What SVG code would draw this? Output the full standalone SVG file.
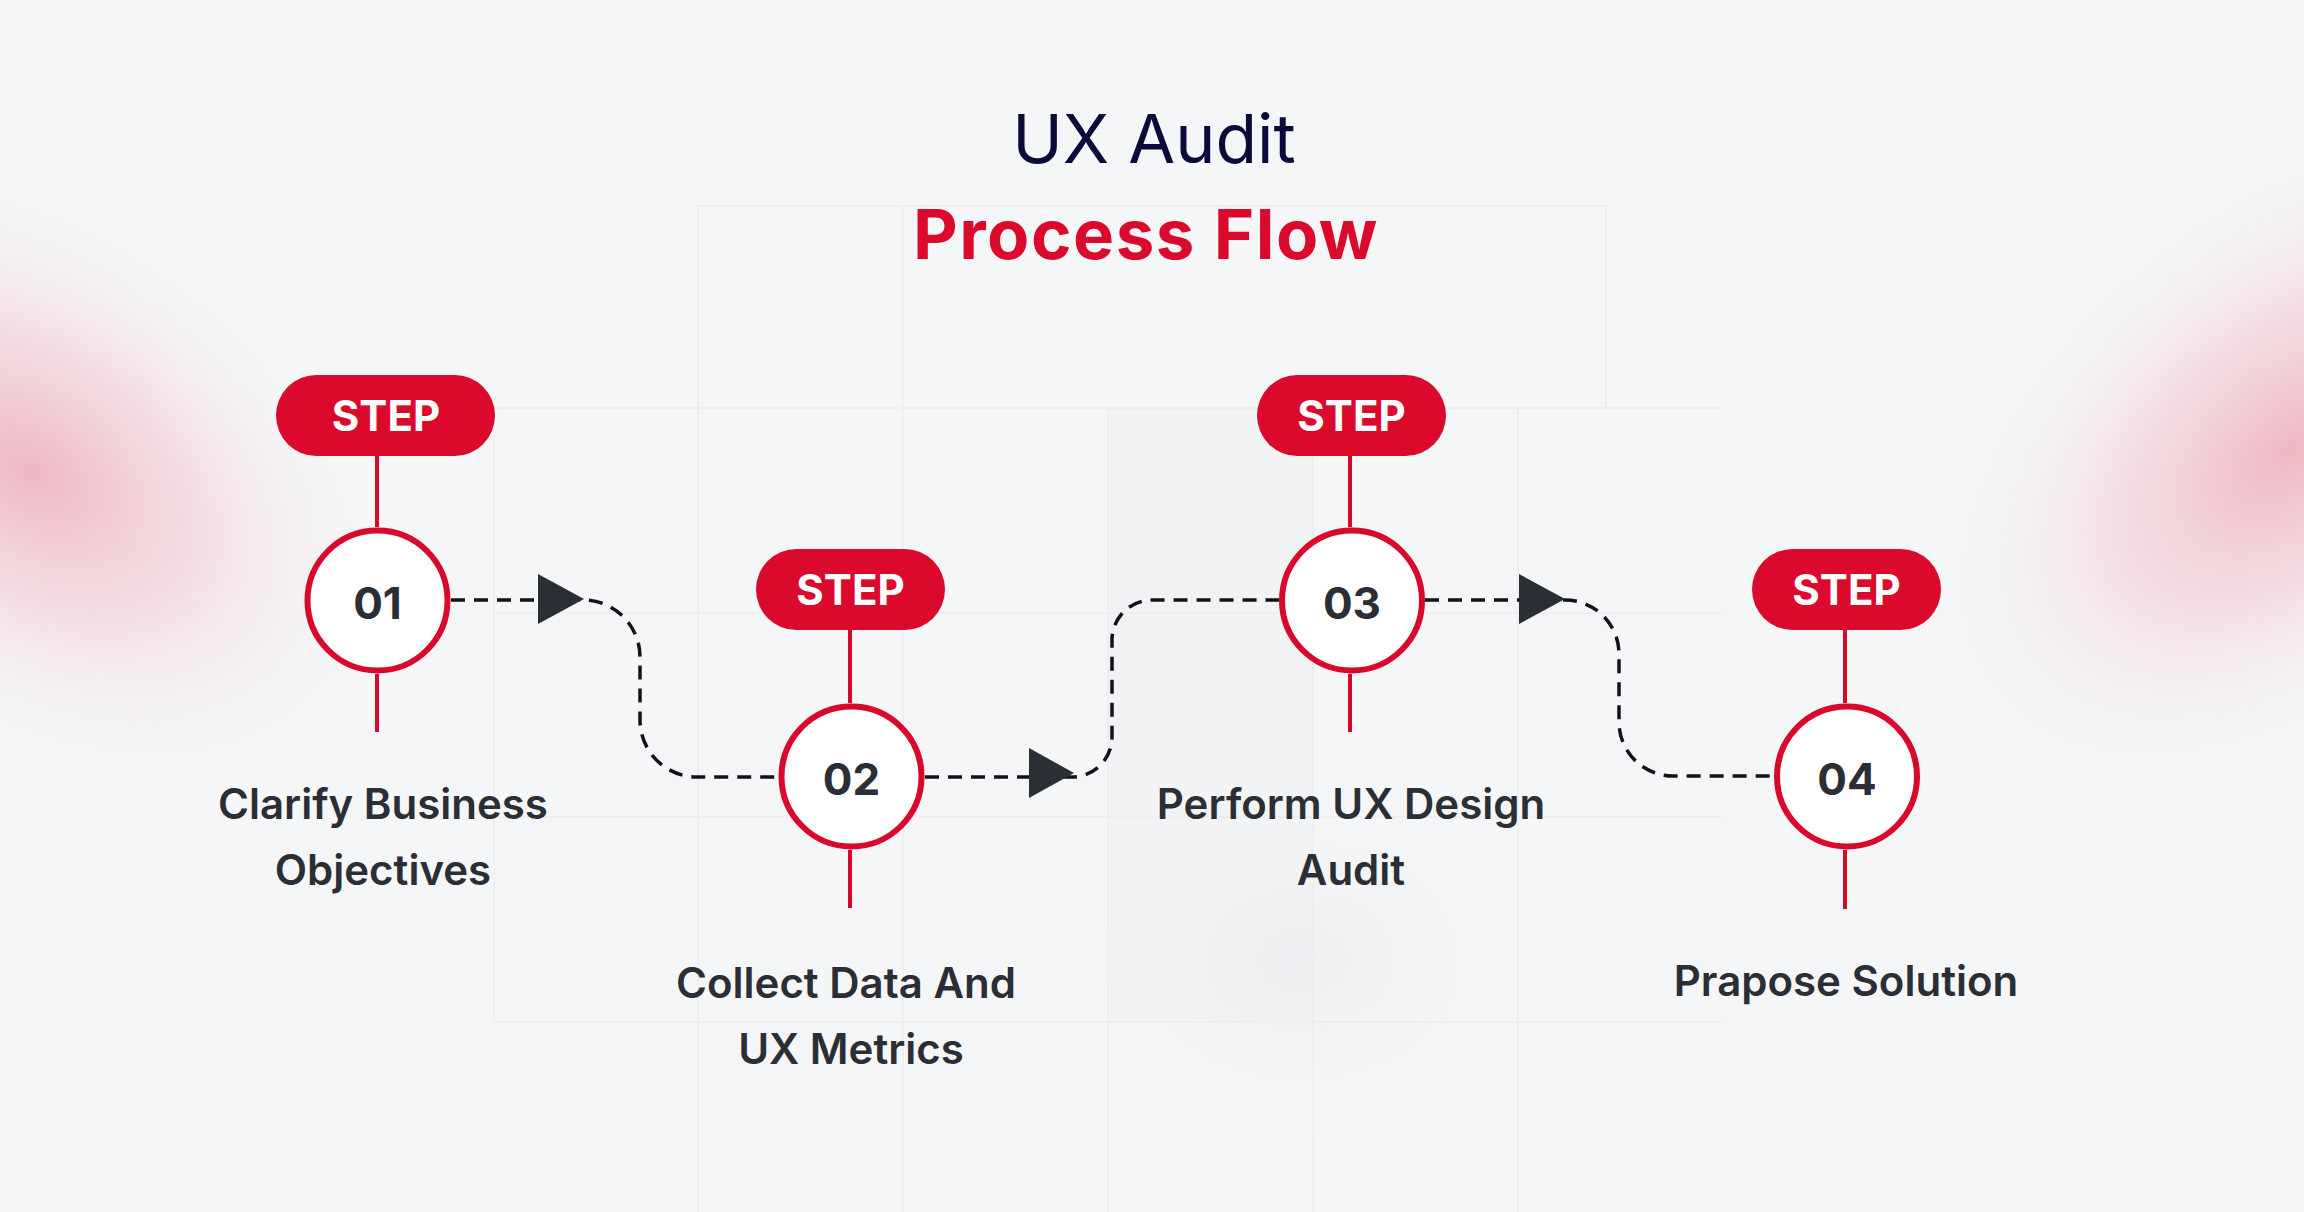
<svg xmlns="http://www.w3.org/2000/svg" width="2304" height="1212" viewBox="0 0 2304 1212">
<defs>
<style>
.pill{fill:#db0a2d}
.pilltxt{font-family:Inter,"Noto Sans",sans-serif;font-weight:700;font-size:42px;fill:#ffffff;text-anchor:middle}
.ring{fill:#ffffff;stroke:#d9092b;stroke-width:6}
.num{font-family:Inter,"Noto Sans",sans-serif;font-weight:700;font-size:44px;fill:#2b2e35;text-anchor:middle}
.stem{stroke:#d9092b;stroke-width:4;fill:none}
.lbl{font-family:Inter,"Noto Sans",sans-serif;font-weight:600;font-size:42px;fill:#2b2e35;text-anchor:middle}
.dash{fill:none;stroke:#111318;stroke-width:3.5;stroke-dasharray:14 9}
.arrow{fill:#2b2e35}
.grid{stroke:#ebedf0;stroke-width:1.5;fill:none}
</style>
<radialGradient id="pink" cx="0.5" cy="0.5" r="0.5">
<stop offset="0" stop-color="#eca3b1" stop-opacity="0.75"/>
<stop offset="0.45" stop-color="#f0bcc6" stop-opacity="0.45"/>
<stop offset="1" stop-color="#f5f6f8" stop-opacity="0"/>
</radialGradient>
<radialGradient id="gray" cx="0.5" cy="0.5" r="0.5">
<stop offset="0" stop-color="#e9eaed" stop-opacity="0.6"/>
<stop offset="1" stop-color="#f5f6f8" stop-opacity="0"/>
</radialGradient>
</defs>
<rect x="0" y="0" width="2304" height="1212" fill="#f5f6f8"/>
<g id="background">
<ellipse cx="30" cy="470" rx="400" ry="260" transform="rotate(35 30 470)" fill="url(#pink)"/>
<ellipse cx="2290" cy="450" rx="420" ry="260" transform="rotate(-40 2290 450)" fill="url(#pink)"/>
<rect x="1108" y="408" width="205" height="614" fill="#f2f3f5"/>
<ellipse cx="1300" cy="960" rx="240" ry="180" fill="url(#gray)"/>
<path class="grid" d="M698,206 V1212 M903,206 V1212 M1108,408 V1212 M1313,408 V1212 M1518,408 V1212 M494,408 V1022 M494,408 H1721 M494,613 H1721 M494,817 H1721 M494,1022 H1721 M698,206 H1606 M1606,206 V408"/>
</g>
<g id="title">
<text x="1154" y="163" font-family="Inter,'Noto Sans',sans-serif" font-weight="400" font-size="68" fill="#0b0a3a" text-anchor="middle">UX Audit</text>
<text x="1146" y="259" font-family="Inter,'Noto Sans',sans-serif" font-weight="700" font-size="69" letter-spacing="1.5" fill="#db0a2d" text-anchor="middle">Process Flow</text>
</g>
<g id="connectors">
<path class="dash" d="M451,600 H583 A57,57 0 0 1 640,657 V720 A57,57 0 0 0 697,777 H778"/>
<polygon class="arrow" points="538,574 538,624 584,599"/>
<path class="dash" d="M925,777 H1072 A40,40 0 0 0 1112,737 V640 A40,40 0 0 1 1152,600 H1279"/>
<polygon class="arrow" points="1029,748 1029,798 1074,773"/>
<path class="dash" d="M1425,600 H1565 A54,54 0 0 1 1619,654 V722 A54,54 0 0 0 1673,776 H1774"/>
<polygon class="arrow" points="1519,574 1519,624 1565,599"/>
</g>
<g id="step1">
<line class="stem" x1="377" y1="456" x2="377" y2="527"/>
<line class="stem" x1="377" y1="674" x2="377" y2="732"/>
<rect class="pill" x="276" y="375" width="219" height="81" rx="40.5"/>
<text class="pilltxt" x="386" y="431">STEP</text>
<circle class="ring" cx="377.5" cy="600.5" r="70"/>
<text class="num" x="377.5" y="619">01</text>
<text class="lbl" x="383" y="819">Clarify Business</text>
<text class="lbl" x="383" y="885">Objectives</text>
</g>
<g id="step2">
<line class="stem" x1="850" y1="630" x2="850" y2="703"/>
<line class="stem" x1="850" y1="850" x2="850" y2="908"/>
<rect class="pill" x="756" y="549" width="189" height="81" rx="40.5"/>
<text class="pilltxt" x="850.5" y="605">STEP</text>
<circle class="ring" cx="851.5" cy="776.5" r="70"/>
<text class="num" x="851.5" y="795">02</text>
<text class="lbl" x="846" y="998">Collect Data And</text>
<text class="lbl" x="851" y="1064">UX Metrics</text>
</g>
<g id="step3">
<line class="stem" x1="1350" y1="456" x2="1350" y2="527"/>
<line class="stem" x1="1350" y1="674" x2="1350" y2="732"/>
<rect class="pill" x="1257" y="375" width="189" height="81" rx="40.5"/>
<text class="pilltxt" x="1351.5" y="431">STEP</text>
<circle class="ring" cx="1352" cy="600.5" r="70"/>
<text class="num" x="1352" y="619">03</text>
<text class="lbl" x="1351" y="819">Perform UX Design</text>
<text class="lbl" x="1351" y="885">Audit</text>
</g>
<g id="step4">
<line class="stem" x1="1845" y1="630" x2="1845" y2="703"/>
<line class="stem" x1="1845" y1="850" x2="1845" y2="909"/>
<rect class="pill" x="1752" y="549" width="189" height="81" rx="40.5"/>
<text class="pilltxt" x="1846.5" y="605">STEP</text>
<circle class="ring" cx="1847" cy="776.5" r="70"/>
<text class="num" x="1847" y="795">04</text>
<text class="lbl" x="1846" y="996">Prapose Solution</text>
</g>
</svg>
